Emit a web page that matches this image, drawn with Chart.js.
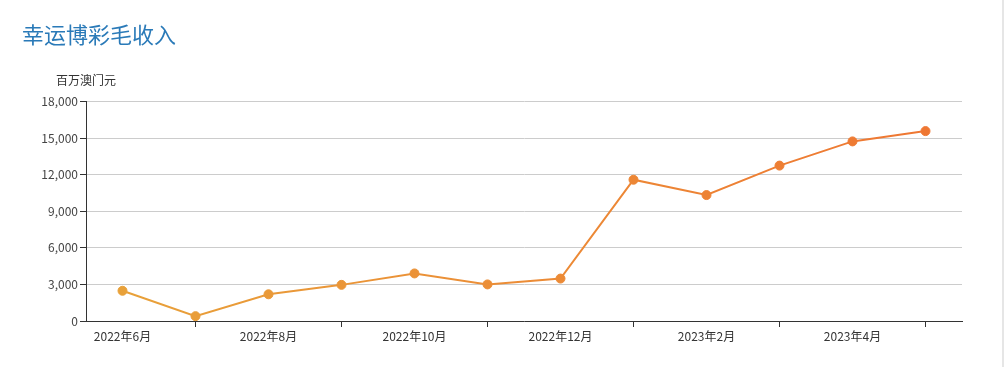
<!DOCTYPE html>
<html>
<head>
<meta charset="utf-8">
<script src="https://cdn.jsdelivr.net/npm/chart.js@4"></script>
<style>
  html, body { margin: 0; padding: 0; background: #fff; overflow: hidden; }
  .wrap { position: relative; width: 1004px; height: 367px; }
  .edge { position: absolute; left: 1002px; top: 0; width: 2px; height: 367px; background: #e6e6e6; }
</style>
</head>
<body>
<div class="wrap">
  <canvas id="ggrChart" width="1004" height="367"></canvas>
  <div class="edge"></div>
</div>
<script>
// data
var months = ['2022年6月', '2022年7月', '2022年8月', '2022年9月', '2022年10月', '2022年11月',
  '2022年12月', '2023年1月', '2023年2月', '2023年3月', '2023年4月', '2023年5月'];
var revenue = [2477, 398, 2189, 2962, 3899, 2999, 3478, 11580, 10324, 12738, 14722, 15565];
var yTicks = [0, 3000, 6000, 9000, 12000, 15000, 18000];
var chartTitle = '幸运博彩毛收入';
var unitLabel = '百万澳门元';

var FONT = '"Noto Sans CJK SC", "Noto Sans", sans-serif';

function lineGradient(chart) {
  var area = chart.chartArea;
  if (!area) return '#ec8a35';
  var g = chart.ctx.createLinearGradient(area.left, 0, area.right, 0);
  g.addColorStop(0, '#e8a33a');
  g.addColorStop(1, '#ef7532');
  return g;
}

// unit label above the y axis
var unitPlugin = {
  id: 'unitLabel',
  afterDraw: function (chart) {
    var ctx = chart.ctx;
    ctx.save();
    ctx.font = '12px ' + FONT;
    ctx.fillStyle = '#333';
    ctx.textAlign = 'center';
    ctx.textBaseline = 'middle';
    ctx.fillText(unitLabel, chart.chartArea.left, 80);
    ctx.restore();
  }
};

var ctx = document.getElementById('ggrChart').getContext('2d');
var ggrChart = new Chart(ctx, {
  type: 'line',
  data: {
    labels: months,
    datasets: [{
      data: revenue,
      borderColor: function (c) { return lineGradient(c.chart); },
      backgroundColor: function (c) { return lineGradient(c.chart); },
      pointBackgroundColor: function (c) { return lineGradient(c.chart); },
      pointBorderColor: function (c) { return lineGradient(c.chart); },
      borderWidth: 2,
      pointRadius: 4.5,
      pointBorderWidth: 1,
      tension: 0,
      fill: false
    }]
  },
  options: {
    responsive: false,
    animation: false,
    layout: { padding: { left: 22, right: 42, top: 0, bottom: 0 } },
    plugins: {
      legend: { display: false },
      tooltip: { enabled: false },
      title: {
        display: true,
        text: chartTitle,
        align: 'start',
        color: '#2a7ab8',
        font: { family: FONT, size: 22, weight: 'normal' },
        padding: { top: 21, bottom: 54 }
      }
    },
    scales: {
      x: {
        offset: true,
        afterFit: function (s) { s.height = 46; },
        border: { display: true, color: '#333', width: 1 },
        grid: {
          drawOnChartArea: false,
          tickLength: 6,
          tickColor: function (c) { return c.index % 2 === 1 ? '#333' : 'rgba(0,0,0,0)'; }
        },
        ticks: {
          autoSkip: false,
          maxRotation: 0,
          padding: 2,
          color: '#333',
          font: { family: FONT, size: 12 },
          callback: function (v, i) { return i % 2 === 0 ? months[i] : ''; }
        }
      },
      y: {
        min: yTicks[0],
        max: yTicks[yTicks.length - 1],
        afterFit: function (s) { s.width = 64; },
        afterBuildTicks: function (s) { s.ticks = yTicks.map(function (v) { return { value: v }; }); },
        border: { display: true, color: '#333', width: 1 },
        grid: {
          color: '#cccccc',
          tickColor: '#333',
          tickLength: 6
        },
        ticks: {
          padding: 2,
          color: '#444',
          font: { family: FONT, size: 12 },
          callback: function (v) { return v.toLocaleString('en-US'); }
        }
      }
    }
  },
  plugins: [unitPlugin]
});
</script>
</body>
</html>
